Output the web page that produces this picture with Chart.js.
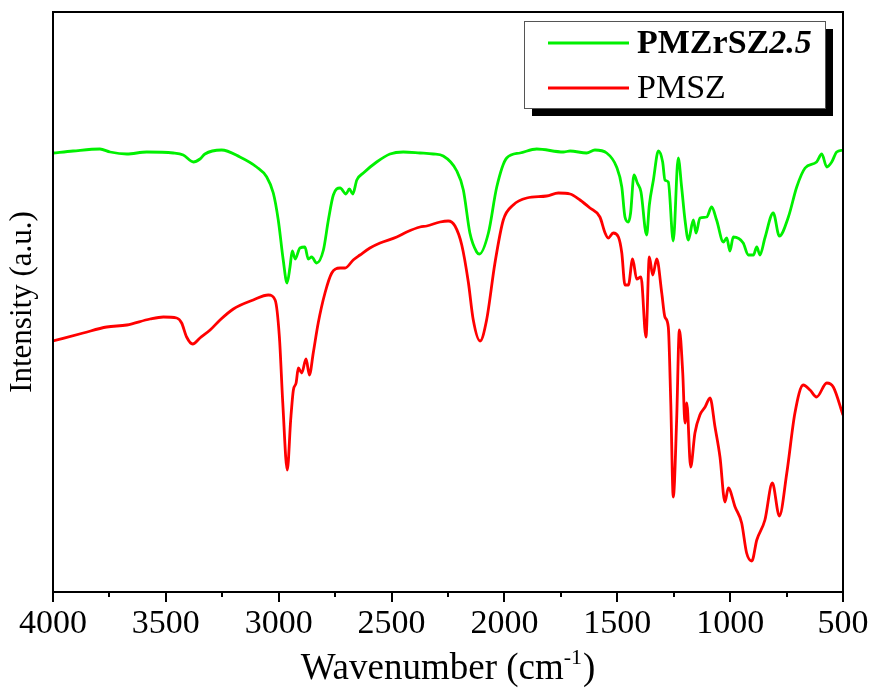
<!DOCTYPE html>
<html>
<head>
<meta charset="utf-8">
<script src="https://cdn.jsdelivr.net/npm/chart.js@4.4.1/dist/chart.umd.min.js"></script>
<style>
html,body{margin:0;padding:0;background:#fff;}
#wrap{width:874px;height:692px;position:relative;}
</style>
</head>
<body>
<div id="wrap"><canvas id="c" width="874" height="692"></canvas></div>
<script>
// Series names
const seriesNames = ['PMZrSZ2.5', 'PMSZ'];
// x tick values (wavenumber, cm-1)
const xTicks = [4000, 3500, 3000, 2500, 2000, 1500, 1000, 500];
const xTitle = 'Wavenumber (cm';
const xTitleSup = '-1';
const yTitle = 'Intensity (a.u.)';

// PMZrSZ2.5 (green)
const wnGreen = [4000,3911,3792,3747,3673,3585,3467,3423,3378,3349,3327,3253,3172,3098,3053,3024,3002,2980,2963,2950,2940,2927,2906,2884,2869,2854,2832,2802,2780,2758,2728,2702,2687,2672,2654,2625,2566,2507,2448,2374,2315,2271,2211,2182,2153,2123,2111,2071,2034,1990,1931,1857,1739,1709,1636,1599,1547,1503,1480,1466,1451,1441,1426,1411,1395,1370,1358,1340,1318,1299,1289,1274,1252,1230,1215,1200,1185,1163,1151,1134,1104,1082,1060,1030,1015,1001,986,942,920,897,882,868,846,809,782,742,705,668,617,594,572,550,528,500];
const intGreen = [439,441,443,440,438,440,439,437,430,433,438,442,435,425,415,399,372,332,309,325,341,333,344,345,333,335,329,342,372,397,404,398,403,398,412,419,430,438,440,439,438,436,421,402,359,340,338,359,405,434,439,443,440,441,439,442,439,425,405,375,370,379,417,409,400,357,387,412,441,430,412,410,351,434,405,372,352,372,359,374,375,385,372,350,354,341,355,349,337,337,345,337,354,379,356,375,405,424,430,438,425,430,440,442];

// PMSZ (red)
const wnRed = [4000,3866,3762,3673,3570,3511,3452,3430,3408,3381,3349,3304,3260,3201,3113,3046,3016,2997,2982,2962,2947,2935,2923,2913,2898,2879,2864,2847,2825,2795,2765,2728,2706,2670,2640,2596,2551,2477,2433,2374,2344,2285,2249,2219,2189,2160,2138,2108,2079,2042,2005,1961,1901,1813,1761,1709,1665,1621,1577,1554,1540,1518,1495,1480,1466,1451,1432,1414,1395,1373,1358,1343,1325,1303,1289,1274,1263,1252,1237,1225,1210,1200,1192,1175,1156,1134,1111,1089,1067,1045,1023,1008,978,949,927,904,882,846,813,782,749,713,676,646,617,572,543,500];
const intRed = [251,259,265,267,273,275,274,269,255,248,254,262,272,283,292,297,292,255,189,122,172,202,209,224,219,233,217,239,269,299,319,324,324,332,337,344,349,355,360,365,366,370,371,366,347,310,272,251,272,329,372,387,394,396,399,398,392,384,375,359,354,359,355,339,307,307,333,313,315,255,335,317,333,299,275,265,189,95,172,262,219,169,189,125,159,177,185,194,165,135,90,104,85,69,39,31,52,72,109,76,119,179,207,202,195,209,205,177];

const toPts = (xs, ys) => xs.map((x, i) => ({x: x, y: ys[i]}));
const SERIF = '"Liberation Serif", "Times New Roman", serif';

const framePlugin = {
  id: 'frame',
  afterDraw(chart) {
    const {ctx, chartArea: a, scales} = chart;
    const xs = scales.x;
    ctx.save();
    ctx.strokeStyle = '#000';
    ctx.lineWidth = 2;
    ctx.strokeRect(a.left, a.top, a.right - a.left, a.bottom - a.top);
    // minor ticks
    for (let v = 750; v < 4000; v += 500) {
      const px = Math.round(xs.getPixelForValue(v));
      ctx.beginPath();
      ctx.moveTo(px, a.bottom);
      ctx.lineTo(px, a.bottom + 5);
      ctx.stroke();
    }
    // x title with superscript
    const big = '37px ' + SERIF, small = '22px ' + SERIF;
    ctx.fillStyle = '#000';
    ctx.textBaseline = 'alphabetic';
    ctx.font = big;
    const w1 = ctx.measureText(xTitle).width;
    const w3 = ctx.measureText(')').width;
    ctx.font = small;
    const w2 = ctx.measureText(xTitleSup).width;
    const total = w1 + w2 + w3 + 1;
    let x0 = (a.left + a.right) / 2 - total / 2;
    const base = 679;
    ctx.font = big; ctx.textAlign = 'left';
    ctx.fillText(xTitle, x0, base);
    ctx.font = small;
    ctx.fillText(xTitleSup, x0 + w1, base - 15);
    ctx.font = big;
    ctx.fillText(')', x0 + w1 + w2 + 1, base);
    ctx.restore();
  }
};

const legendPlugin = {
  id: 'customLegend',
  afterDraw(chart) {
    const ctx = chart.ctx;
    const bx = 524, by = 21, bw = 301, bh = 87;
    ctx.save();
    ctx.fillStyle = '#000';
    ctx.fillRect(bx + 8, by + 8, bw, bh);
    ctx.fillStyle = '#fff';
    ctx.fillRect(bx, by, bw, bh);
    ctx.strokeStyle = '#555';
    ctx.lineWidth = 1;
    ctx.strokeRect(bx + 0.5, by + 0.5, bw, bh);
    const rows = [43, 88];
    chart.data.datasets.forEach((ds, i) => {
      const y = rows[i];
      ctx.strokeStyle = ds.borderColor;
      ctx.lineWidth = 2.8;
      ctx.beginPath();
      ctx.moveTo(548, y);
      ctx.lineTo(629, y);
      ctx.stroke();
      ctx.fillStyle = '#000';
      ctx.textBaseline = 'middle';
      ctx.textAlign = 'left';
      const label = ds.label;
      if (i === 0) {
        const m = label.match(/^(.*?)([\d.]+)$/);
        ctx.font = 'bold 34px ' + SERIF;
        ctx.fillText(m[1], 637, y + 1);
        const w = ctx.measureText(m[1]).width;
        ctx.font = 'italic bold 34px ' + SERIF;
        ctx.fillText(m[2], 637 + w, y + 1);
      } else {
        ctx.font = '34px ' + SERIF;
        ctx.fillText(label, 637, y + 1);
      }
    });
    ctx.restore();
  }
};

new Chart(document.getElementById('c'), {
  type: 'line',
  data: {
    datasets: [
      {label: seriesNames[0], data: toPts(wnGreen, intGreen), borderColor: '#00f000', borderWidth: 2.8, pointRadius: 0, cubicInterpolationMode: 'monotone', fill: false},
      {label: seriesNames[1], data: toPts(wnRed, intRed), borderColor: '#ff0000', borderWidth: 2.8, pointRadius: 0, cubicInterpolationMode: 'monotone', fill: false}
    ]
  },
  options: {
    responsive: false,
    animation: false,
    events: [],
    layout: {padding: {top: 12, right: 31, left: 0, bottom: 0}},
    plugins: {legend: {display: false}, tooltip: {enabled: false}},
    scales: {
      x: {
        type: 'linear',
        reverse: true,
        min: 500, max: 4000,
        afterFit(s) { s.height = 100; },
        afterBuildTicks(s) { s.ticks = xTicks.map(v => ({value: v})); },
        grid: {display: true, drawOnChartArea: false, drawTicks: true, tickLength: 10, color: '#000', lineWidth: 2, tickWidth: 2, tickColor: '#000'},
        border: {display: true, color: '#000', width: 2},
        ticks: {font: {family: SERIF, size: 34}, color: '#000', padding: 2, maxRotation: 0, autoSkip: false, callback: v => String(v)},
        title: {display: false}
      },
      y: {
        type: 'linear',
        min: 0, max: 580,
        afterFit(s) { s.width = 53; },
        grid: {display: false},
        border: {display: true, color: '#000', width: 2},
        ticks: {display: false},
        title: {display: true, text: yTitle, font: {family: SERIF, size: 31}, color: '#000', padding: {top: 4, bottom: 0}}
      }
    }
  },
  plugins: [framePlugin, legendPlugin]
});
</script>
</body>
</html>
